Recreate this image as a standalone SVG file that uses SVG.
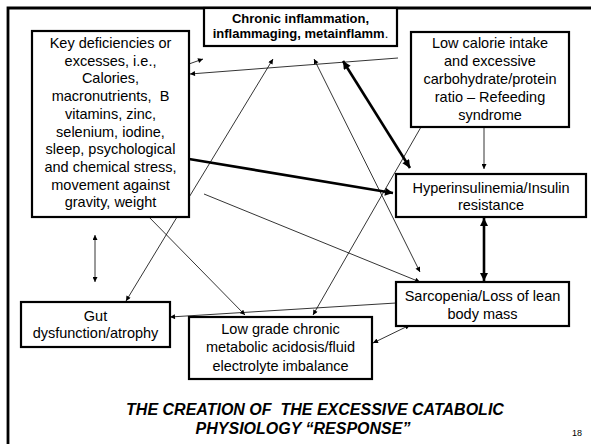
<svg xmlns="http://www.w3.org/2000/svg" width="591" height="444" viewBox="0 0 591 444">
<style>
.box{fill:#fff;stroke:#000;stroke-width:2.2}
.t{font-family:"Liberation Sans",Arial,sans-serif;font-size:14.5px;fill:#000;text-anchor:middle}
.b{font-weight:bold;font-size:13px}
.title{font-family:"Liberation Sans",Arial,sans-serif;font-size:16px;font-weight:bold;font-style:italic;text-anchor:middle;white-space:pre}
.thin{stroke:#000;stroke-width:0.8;fill:none}
.thick{stroke:#000;stroke-width:2.6;fill:none}
</style>
<defs>
<marker id="ah" viewBox="0 0 10 10" refX="10" refY="5" markerWidth="6" markerHeight="5" markerUnits="userSpaceOnUse" orient="auto-start-reverse"><path d="M0,0L10,5L0,10z" fill="#000"/></marker>
<marker id="ahb" viewBox="0 0 10 10" refX="10" refY="5" markerWidth="10" markerHeight="8" markerUnits="userSpaceOnUse" orient="auto-start-reverse"><path d="M0,0L10,5L0,10z" fill="#000"/></marker>
</defs>
<rect width="591" height="444" fill="#fff"/>
<g id="frame"><path d="M8,444V8H591" fill="none" stroke="#000" stroke-width="2.8"/></g>
<g id="connectors">
<line class="thin" x1="172" y1="70" x2="203" y2="59" marker-start="url(#ah)" marker-end="url(#ah)"/>
<line class="thin" x1="398" y1="58" x2="190" y2="74" marker-end="url(#ah)"/>
<line class="thin" x1="273" y1="59" x2="126" y2="301" marker-start="url(#ah)" marker-end="url(#ah)"/>
<line class="thin" x1="147" y1="215" x2="245" y2="315" marker-end="url(#ah)"/>
<line class="thin" x1="314" y1="59" x2="420" y2="272" marker-start="url(#ah)" marker-end="url(#ah)"/>
<line class="thick" x1="343" y1="61" x2="410" y2="168" marker-start="url(#ahb)" marker-end="url(#ahb)"/>
<line class="thin" x1="484" y1="127" x2="484" y2="169" marker-end="url(#ah)"/>
<line class="thick" x1="189" y1="159" x2="393" y2="193" marker-end="url(#ahb)"/>
<line class="thin" x1="421" y1="127" x2="313" y2="315" marker-end="url(#ah)"/>
<line class="thin" x1="204" y1="194" x2="420" y2="282" marker-end="url(#ah)"/>
<line class="thick" x1="484" y1="218" x2="484" y2="281" marker-start="url(#ahb)" marker-end="url(#ahb)"/>
<line class="thin" x1="396" y1="303" x2="170" y2="317" marker-end="url(#ah)"/>
<line class="thin" x1="373" y1="343" x2="410" y2="325" marker-start="url(#ah)" marker-end="url(#ah)"/>
<line class="thin" x1="95" y1="235" x2="95" y2="282" marker-start="url(#ah)" marker-end="url(#ah)"/>
</g>
<g id="key">
<rect class="box" x="32" y="31" width="157" height="186"/>
<text class="t" x="110.5" y="48">Key deficiencies or</text>
<text class="t" x="110.5" y="65.7">excesses, i.e.,</text>
<text class="t" x="110.5" y="83.4">Calories,</text>
<text class="t" x="110.5" y="101.1" xml:space="preserve">macronutrients,  B</text>
<text class="t" x="110.5" y="118.8">vitamins, zinc,</text>
<text class="t" x="110.5" y="136.5">selenium, iodine,</text>
<text class="t" x="110.5" y="154.2">sleep, psychological</text>
<text class="t" x="110.5" y="171.9">and chemical stress,</text>
<text class="t" x="110.5" y="189.6">movement against</text>
<text class="t" x="110.5" y="207.3">gravity, weight</text>
</g>
<g id="chronic">
<rect class="box" x="204" y="8" width="193" height="38"/>
<text class="t b" x="300.5" y="23">Chronic inflammation,</text>
<text class="t b" x="300.5" y="38">inflammaging, metainflamm<tspan font-weight="normal">.</tspan></text>
</g>
<g id="lowcal">
<rect class="box" x="411" y="32" width="158" height="95"/>
<text class="t" x="490" y="48">Low calorie intake</text>
<text class="t" x="490" y="66">and excessive</text>
<text class="t" x="490" y="84">carbohydrate/protein</text>
<text class="t" x="490" y="102">ratio – Refeeding</text>
<text class="t" x="490" y="120">syndrome</text>
</g>
<g id="hyper">
<rect class="box" x="396" y="174" width="190" height="43"/>
<text class="t" x="491" y="193">Hyperinsulinemia/Insulin</text>
<text class="t" x="491" y="210">resistance</text>
</g>
<g id="sarco">
<rect class="box" x="396" y="282" width="173" height="44"/>
<text class="t" x="482.5" y="301">Sarcopenia/Loss of lean</text>
<text class="t" x="482.5" y="319">body mass</text>
</g>
<g id="gut">
<rect class="box" x="21" y="302" width="149" height="45"/>
<text class="t" x="95.5" y="321">Gut</text>
<text class="t" x="95.5" y="338">dysfunction/atrophy</text>
</g>
<g id="lowgrade">
<rect class="box" x="189" y="317" width="183" height="62"/>
<text class="t" x="280.5" y="334">Low grade chronic</text>
<text class="t" x="280.5" y="352">metabolic acidosis/fluid</text>
<text class="t" x="280.5" y="371">electrolyte imbalance</text>
</g>
<g id="caption">
<text class="title" x="315" y="415" xml:space="preserve">THE CREATION OF  THE EXCESSIVE CATABOLIC</text>
<text class="title" x="303" y="434">PHYSIOLOGY “RESPONSE”</text>
<text x="577" y="436" font-family="Liberation Sans, Arial, sans-serif" font-size="9" text-anchor="middle">18</text>
</g>
</svg>
